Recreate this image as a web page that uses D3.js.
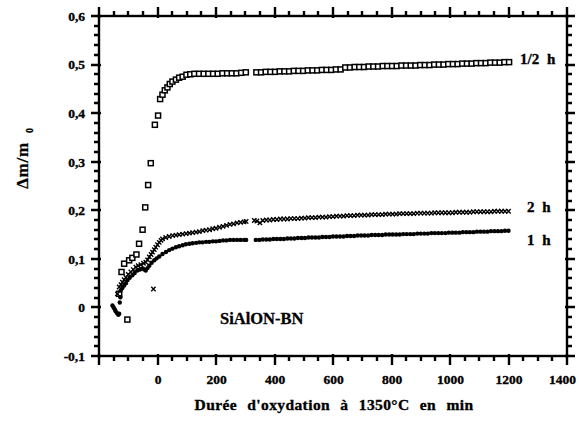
<!DOCTYPE html>
<html><head><meta charset="utf-8">
<script src="https://cdn.jsdelivr.net/npm/d3@7"></script>
<style>
body{margin:0;background:#fff;}
text{font-family:"Liberation Serif","Times New Roman",serif;font-weight:bold;fill:#000;}
</style></head>
<body><svg id="c" width="579" height="434"></svg>
<script>
// ---- data (minutes, Δm/m0) ----
const xMajorTicks = [-200, 0, 200, 400, 600, 800, 1000, 1200, 1400];
const xTickLabels = ["", "0", "200", "400", "600", "800", "1000", "1200", "1400"];
const yMajorTicks = [-0.1, 0, 0.1, 0.2, 0.3, 0.4, 0.5, 0.6];
const yTickLabels = ["-0,1", "0", "0,1", "0,2", "0,3", "0,4", "0,5", "0,6"];
const seriesLabels = ["1/2 h", "2 h", "1 h"];

const halfHour = [
 [-131,0.028],[-123,0.073],[-114,0.090],[-103,-0.025],[-97,0.097],[-86,0.102],[-72,0.109],[-63,0.131],
 [-51,0.160],[-42,0.206],[-32,0.252],[-23,0.297],[-9,0.376],[2,0.395],[9,0.429],[17,0.438],[25,0.447],
 [34,0.453],[42,0.460],[51,0.465],[63,0.469],[74,0.473],[86,0.475],[99,0.479],[112,0.480],[126,0.481],
 [142,0.481],[158,0.481],[174,0.481],[190,0.481],[206,0.481],[222,0.482],[238,0.482],[254,0.482],
 [270,0.482],[286,0.483],[302,0.484],
 [338,0.484],[354,0.484],[370,0.485],[386,0.485],[402,0.485],[418,0.486],[434,0.486],[450,0.486],
 [466,0.487],[482,0.487],[498,0.487],[514,0.488],[530,0.488],[546,0.488],[562,0.489],[578,0.489],
 [594,0.489],[610,0.490],[626,0.490],[642,0.494],[658,0.494],[674,0.495],[690,0.495],[706,0.495],
 [722,0.496],[738,0.496],[754,0.496],[770,0.497],[786,0.497],[802,0.497],[818,0.497],[834,0.498],
 [850,0.498],[866,0.498],[882,0.498],[898,0.499],[914,0.499],[930,0.499],[946,0.500],[962,0.500],
 [978,0.500],[994,0.501],[1010,0.501],[1026,0.501],[1042,0.502],[1058,0.502],[1074,0.502],[1090,0.503],
 [1106,0.503],[1122,0.503],[1138,0.504],[1154,0.504],[1170,0.504],[1186,0.505],[1202,0.505]
];

const twoHour = [
 [-137,0.028],[-131,0.042],[-125,0.047],[-120,0.052],[-114,0.057],[-108,0.062],[-100,0.068],[-91,0.073],
 [-83,0.078],[-74,0.083],[-66,0.086],[-57,0.088],[-48,0.091],[-40,0.093],[-34,0.098],[-28,0.104],
 [-22,0.109],[-17,0.114],[-14,0.038],[-11,0.119],[-6,0.124],[0,0.129],[6,0.134],[12,0.138],[17,0.141],
 [28,0.144],[40,0.146],[52,0.148],[63,0.149],[74,0.150],[86,0.151],[98,0.152],[109,0.153],[120,0.154],
 [132,0.155],[143,0.156],[155,0.158],[166,0.159],[178,0.160],[189,0.162],[200,0.163],[212,0.165],
 [224,0.167],[236,0.169],[248,0.171],[260,0.172],[272,0.174],[284,0.175],[296,0.176],[303,0.177],
 [331,0.179],[340,0.178],[350,0.174],[360,0.179],
 [372,0.180],[384,0.180],[396,0.181],[408,0.181],[420,0.182],[432,0.182],[444,0.182],[456,0.183],
 [468,0.183],[480,0.183],[492,0.184],[504,0.184],[516,0.185],[528,0.185],[540,0.185],[552,0.186],
 [564,0.186],[576,0.186],[588,0.187],[600,0.187],[612,0.188],[624,0.188],[636,0.188],[648,0.189],
 [660,0.189],[672,0.189],[684,0.190],[696,0.190],[708,0.190],[720,0.190],[732,0.191],[744,0.191],
 [756,0.191],[768,0.191],[780,0.192],[792,0.192],[804,0.192],[816,0.192],[828,0.193],[840,0.193],
 [852,0.193],[864,0.193],[876,0.193],[888,0.194],[900,0.194],[912,0.194],[924,0.194],[936,0.194],
 [948,0.195],[960,0.195],[972,0.195],[984,0.195],[996,0.195],[1008,0.195],[1020,0.196],[1032,0.196],
 [1044,0.196],[1056,0.196],[1068,0.196],[1080,0.197],[1092,0.197],[1104,0.197],[1116,0.197],[1128,0.197],
 [1140,0.197],[1152,0.198],[1164,0.198],[1176,0.198],[1188,0.198],[1200,0.198]
];

const oneHour = [
 [-154,0.004],[-150,0.000],[-146,-0.004],[-143,-0.008],[-138,-0.012],[-134,-0.015],[-131,-0.013],
 [-129,0.010],[-127,0.021],[-126,0.035],[-120,0.040],[-114,0.045],[-108,0.050],[-103,0.056],[-95,0.061],
 [-86,0.066],[-78,0.071],[-69,0.076],[-60,0.078],[-51,0.080],[-45,0.078],[-40,0.076],[-34,0.081],
 [-28,0.086],[-20,0.092],[-11,0.097],[-3,0.101],[6,0.105],[17,0.110],[29,0.114],[40,0.118],[51,0.121],
 [63,0.124],[74,0.126],[86,0.128],[97,0.130],[109,0.131],[120,0.132],[132,0.133],[143,0.134],[154,0.134],
 [166,0.135],[177,0.135],[189,0.136],[200,0.136],[212,0.137],[224,0.138],[236,0.138],[248,0.139],
 [260,0.139],[272,0.139],[284,0.139],[296,0.139],[303,0.139],
 [336,0.139],[348,0.139],[360,0.140],[372,0.140],[384,0.140],[396,0.141],[408,0.141],[420,0.141],
 [432,0.141],[444,0.142],[456,0.142],[468,0.142],[480,0.143],[492,0.143],[504,0.143],[516,0.144],
 [528,0.144],[540,0.144],[552,0.144],[564,0.145],[576,0.145],[588,0.145],[600,0.146],[612,0.146],
 [624,0.146],[636,0.146],[648,0.147],[660,0.147],[672,0.147],[684,0.148],[696,0.148],[708,0.148],
 [720,0.148],[732,0.149],[744,0.149],[756,0.149],[768,0.149],[780,0.150],[792,0.150],[804,0.150],
 [816,0.150],[828,0.150],[840,0.151],[852,0.151],[864,0.151],[876,0.151],[888,0.152],[900,0.152],
 [912,0.152],[924,0.152],[936,0.153],[948,0.153],[960,0.153],[972,0.153],[984,0.153],[996,0.154],
 [1008,0.154],[1020,0.154],[1032,0.154],[1044,0.155],[1056,0.155],[1068,0.155],[1080,0.155],[1092,0.156],
 [1104,0.156],[1116,0.156],[1128,0.156],[1140,0.157],[1152,0.157],[1164,0.157],[1176,0.157],[1188,0.158],
 [1200,0.158]
];

// ---- drawing ----
const svg = d3.select("#c");
const L = 99, R = 567, T = 16, B = 356;
const x = d3.scaleLinear().domain([-200, 1400]).range([L, R]);
const y = d3.scaleLinear().domain([-0.1, 0.6]).range([B, T]);

const xMinor = d3.range(-200, 1401, 50).filter(v => v % 200 !== 0);
const yMinor = d3.range(-10, 61, 2).filter(v => v % 10 !== 0).map(v => v / 100);

// frame
svg.append("rect").attr("x", L).attr("y", T).attr("width", R - L).attr("height", B - T)
  .attr("fill", "none").attr("stroke", "#000").attr("stroke-width", 2.4);

// ticks (outward, majors crossing the frame)
let dd = "";
xMinor.forEach(v => { const px = Math.round(x(v)); dd += `M${px},${B}V${B + 5}M${px},${T}V${T - 5}`; });
xMajorTicks.forEach(v => { const px = Math.round(x(v)); dd += `M${px},${B - 2}V${B + 9}M${px},${T + 2}V${T - 9}`; });
yMinor.forEach(v => { const py = Math.round(y(v)); dd += `M${L},${py}H${L - 5}M${R},${py}H${R + 5}`; });
yMajorTicks.forEach(v => { const py = Math.round(y(v)); dd += `M${L + 2},${py}H${L - 8}M${R - 2},${py}H${R + 8}`; });
svg.append("path").attr("d", dd).attr("fill", "none").attr("stroke", "#000").attr("stroke-width", 2.4);

// series
svg.append("g").selectAll("rect").data(halfHour).join("rect")
  .attr("x", d => x(d[0]) - 2.5).attr("y", d => y(d[1]) - 2.5)
  .attr("width", 5).attr("height", 5)
  .attr("fill", "#fff").attr("stroke", "#000").attr("stroke-width", 1.5);

const xSym = d3.symbol().type(d3.symbolX).size(14);
svg.append("g").selectAll("path").data(twoHour).join("path")
  .attr("transform", d => `translate(${x(d[0])},${y(d[1])})`)
  .attr("d", xSym).attr("fill", "none").attr("stroke", "#000").attr("stroke-width", 1.4);

svg.append("g").selectAll("circle").data(oneHour).join("circle")
  .attr("cx", d => x(d[0])).attr("cy", d => y(d[1])).attr("r", 2.2).attr("fill", "#000");

// tick labels via axes (lines hidden)
svg.append("g").attr("transform", `translate(0,${B})`)
  .call(d3.axisBottom(x).tickValues(xMajorTicks).tickSize(0).tickPadding(18)
        .tickFormat((d, i) => xTickLabels[i]))
  .call(g => { g.select(".domain").remove(); g.selectAll(".tick line").remove();
               g.selectAll(".tick text").filter(d => d === 1400).attr("dx", -5); });
svg.append("g").attr("transform", `translate(${L},0)`)
  .call(d3.axisLeft(y).tickValues(yMajorTicks).tickSize(0).tickPadding(14)
        .tickFormat((d, i) => yTickLabels[i]))
  .call(g => { g.select(".domain").remove(); g.selectAll(".tick line").remove(); });
svg.selectAll(".tick text")
  .style("font-family", "'Liberation Serif', serif").style("font-weight", "bold")
  .style("font-size", "13.5px").attr("fill", "#000").attr("stroke", "#000").attr("stroke-width", 0.35);

// series labels
const labPos = [[520, 64], [527, 212], [527, 245]];
svg.append("g").selectAll("text").data(seriesLabels).join("text")
  .attr("x", (d, i) => labPos[i][0]).attr("y", (d, i) => labPos[i][1])
  .attr("font-size", 15).attr("word-spacing", 4)
  .attr("stroke", "#000").attr("stroke-width", 0.35).text(d => d);

// annotation
svg.append("text").attr("x", 220).attr("y", 324).attr("font-size", 16.5)
  .attr("stroke", "#000").attr("stroke-width", 0.3).text("SiAlON-BN");

// axis titles
svg.append("text").attr("x", 334).attr("y", 410).attr("text-anchor", "middle")
  .attr("font-size", 15.5).attr("word-spacing", 6).attr("letter-spacing", 0.4)
  .attr("stroke", "#000").attr("stroke-width", 0.35)
  .text("Durée d'oxydation à 1350°C en min");

const yt = svg.append("text").attr("transform", "translate(28,158) rotate(-90)")
  .attr("text-anchor", "middle").attr("font-size", 17).attr("letter-spacing", 0.8)
  .attr("stroke", "#000").attr("stroke-width", 0.3);
yt.append("tspan").text("Δm/m");
yt.append("tspan").attr("dx", 9).attr("dy", 5).attr("font-size", 10).text("0");
</script></body></html>
